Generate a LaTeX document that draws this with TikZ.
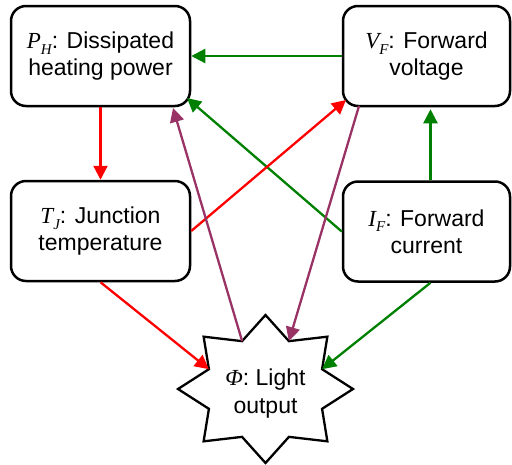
\documentclass[tikz,border=0pt]{standalone}
\usepackage{fontspec}
\setmainfont{Liberation Sans}
\newfontfamily\tms{Liberation Serif}
\usetikzlibrary{arrows.meta,calc}
\definecolor{cred}{RGB}{255,0,0}
\definecolor{cgreen}{RGB}{0,128,0}
\definecolor{cpurple}{RGB}{153,51,102}
\newcommand\mvar[2]{{\tms\itshape #1\raisebox{-0.25em}{\fontsize{15}{15}\selectfont #2}}}
\begin{document}
\begin{tikzpicture}[x=1pt,y=-1pt,
  box/.style={draw=black,line width=2.5pt,rounded corners=15pt,inner sep=0pt,
    align=center,font=\fontsize{23}{27}\selectfont},
  lbl/.style={inner sep=0pt,align=center,font=\fontsize{23}{28}\selectfont},
  arr/.style={line width=2.3pt,-{Triangle[length=14pt,width=14pt]}},
  starline/.style={draw=black,line width=2.3pt,fill=white,line join=miter}]
\useasboundingbox (0,0) rectangle (512,464);
% boxes
\node[box,minimum width=179pt,minimum height=100pt] (PH) at (100.5,56)
  {\mvar{P}{H}: Dissipated\\heating power};
\node[box,minimum width=167pt,minimum height=100pt] (VF) at (426.5,56)
  {\mvar{V}{F}: Forward\\voltage};
\node[box,minimum width=179pt,minimum height=100pt] (TJ) at (100.5,231)
  {\mvar{T}{J}: Junction\\temperature};
\node[box,minimum width=167pt,minimum height=100pt] (IF) at (426.5,231.5)
  {\mvar{I}{F}: Forward\\current};
% star
\coordinate (SC) at (265.5,389);
\draw[starline] ($(SC)+(0,-74)$)
  \foreach \i in {1,...,15}{
    -- ($(SC)+({(mod(\i,2)==1 ? 0.7 : 1)*87.5*cos(90+22.5*\i)},{-(mod(\i,2)==1 ? 0.7 : 1)*74*sin(90+22.5*\i)})$)
  } -- cycle;
\node[lbl] (PHI) at (265.5,394) {{\tms\itshape Φ}: Light\\output};
\coordinate (S1) at ($(SC)+(-23.4,-47.9)$);
\coordinate (S2) at ($(SC)+(23.4,-47.9)$);
\coordinate (S3) at ($(SC)+(-56.6,-19.8)$);
\coordinate (S4) at ($(SC)+(56.6,-19.8)$);
% connectors
\draw[arr,cred] (PH.south) -- (TJ.north);
\draw[arr,cgreen] (VF.west) -- (PH.east);
\draw[arr,cgreen] (IF.west) -- ($(PH.center)+(86.5,42)$);
\draw[arr,cred] (TJ.east) -- ($(VF.center)+(-80.5,44)$);
\draw[arr,cpurple] (S1) -- ($(PH.center)+(72.5,52)$);
\draw[arr,cpurple] ($(VF.center)+(-67.5,50)$) -- (S2);
\draw[arr,cred] (TJ.south) -- (S3);
\draw[arr,cgreen] ($(IF.south)+(4,0)$) -- (S4);
\draw[arr,cgreen] ($(IF.north)+(4,0)$) -- ($(VF.south)+(4,2)$);
\end{tikzpicture}
\end{document}
